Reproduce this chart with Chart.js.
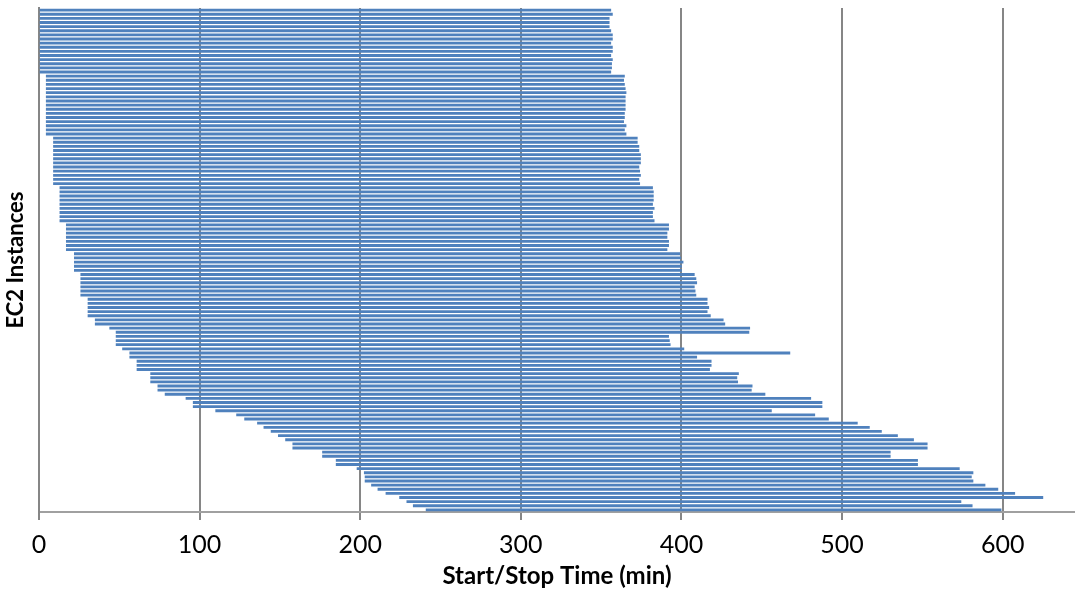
<!DOCTYPE html>
<html>
<head>
<meta charset="utf-8">
<title>EC2 Instances start/stop</title>
<script src="https://cdn.jsdelivr.net/npm/chart.js@4.4.1/dist/chart.umd.min.js"></script>
<style>
  html, body { margin: 0; padding: 0; background: #fff; }
  #wrap { width: 1075px; height: 596px; overflow: hidden; }
</style>
</head>
<body>
<div id="wrap"><canvas id="ganttChart" width="1075" height="596"></canvas></div>
<script>
// start / stop time (min) of each instance, top row first
const startTimes = [
  0, 0, 0, 0, 0, 0, 0, 0, 0, 0, 0, 0, 0, 0, 0, 0,
  4.5, 4.5, 4.5, 4.5, 4.5, 4.5, 4.5, 4.5, 4.5, 4.5, 4.5, 4.5, 4.5, 4.5, 4.5,
  9, 9, 9, 9, 9, 9, 9, 9, 9, 9, 9, 9,
  13, 13, 13, 13, 13, 13, 13, 13, 13,
  17, 17, 17, 17, 17, 17, 17,
  22, 22, 22, 22, 22,
  26, 26, 26, 26, 26, 26,
  30.5, 30.5, 30.5, 30.5, 30.5,
  35, 35, 44, 48, 48, 48, 48, 52, 56.5, 56.5,
  61, 61, 61, 69.5, 69.5, 69.5, 74,
  74, 78.5, 91.5, 96, 96, 110, 123, 128, 136, 140,
  144.5, 149, 153.5, 158, 158, 176.5, 176.5, 185, 185, 198,
  202.5, 203, 203, 207, 211, 216, 224.5, 229, 233, 241
];

const stopTimes = [
  356, 357, 355, 355, 355, 356, 357, 357, 356, 357, 357, 356, 357, 356.5, 356.5, 356,
  364.5, 364, 364.5, 365, 365.5, 365, 365, 365, 365, 364.5, 364.5, 364, 365.5, 364.5, 365.5,
  372.5, 372.5, 373.5, 373.5, 374.5, 374.5, 374.5, 373.5, 374, 374.5, 373.5, 374,
  382, 382.5, 382.5, 382.5, 382, 383, 382, 382, 383,
  392, 392, 391, 391, 392, 392, 391,
  399, 399.5, 401, 400, 400,
  408, 409, 409.5, 408, 408.5, 409,
  416, 416, 417, 416, 418,
  426, 427, 442.5, 442, 392, 392.5, 393, 401.5, 467.5, 409.5,
  418.5, 418.5, 417.5, 435.5, 434.5, 435, 444,
  443.5, 452, 480.5, 487.5, 487.5, 456, 483, 491.5, 509.5, 517,
  524.5, 534.5, 544.5, 553, 553, 530, 530, 547, 547, 573,
  581.5, 580.5, 581.5, 589, 597, 607.5, 625, 574, 581, 599
];

const xTicks = [0, 100, 200, 300, 400, 500, 600];

const instanceLabels = startTimes.map((_, i) => 'i-' + (i + 1));

const GRID = '#868686';
const FONT = 'Lato, "Open Sans", sans-serif';

new Chart(document.getElementById('ganttChart'), {
  type: 'bar',
  data: {
    labels: instanceLabels,
    datasets: [{
      label: 'Run time',
      data: startTimes.map((s, i) => [s, stopTimes[i]]),
      backgroundColor: '#4f81bd',
      borderWidth: 0,
      barThickness: 2.2,
      borderSkipped: false
    }]
  },
  options: {
    indexAxis: 'y',
    responsive: false,
    animation: false,
    layout: { padding: { top: 8, right: 0, bottom: 0, left: 0 } },
    plugins: {
      legend: { display: false },
      tooltip: { enabled: false }
    },
    scales: {
      x: {
        min: 0,
        max: 645,
        afterFit: s => { s.height = 84; },
        afterBuildTicks: s => { s.ticks = xTicks.map(v => ({ value: v })); },
        grid: { color: GRID, lineWidth: 2, tickLength: 8, drawTicks: true },
        border: { color: '#a0a0a0', width: 2 },
        ticks: {
          color: '#000',
          padding: 10,
          maxRotation: 0,
          font: { family: FONT, size: 25 }
        },
        title: {
          display: true,
          text: 'Start/Stop Time (min)',
          color: '#000',
          padding: { top: 0, bottom: 5 },
          font: { family: FONT, size: 24, weight: 'bold' }
        }
      },
      y: {
        afterFit: s => { s.width = 39; },
        grid: { display: false },
        border: { color: GRID, width: 2 },
        ticks: { display: false },
        title: {
          display: true,
          text: 'EC2 Instances',
          color: '#000',
          padding: { top: 3, bottom: 0 },
          font: { family: FONT, size: 22, weight: 'bold' }
        }
      }
    }
  }
});
</script>
</body>
</html>
